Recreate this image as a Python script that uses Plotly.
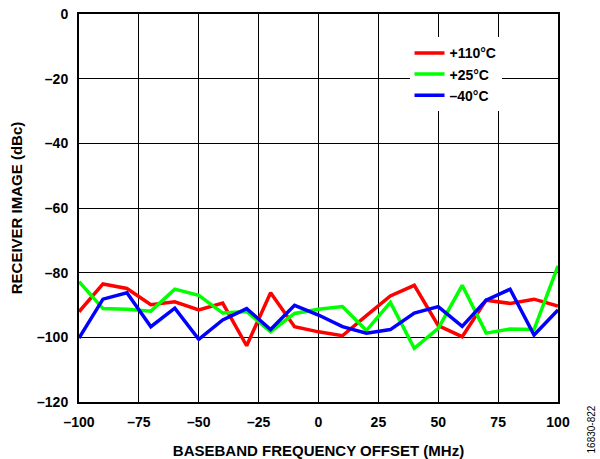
import plotly.graph_objects as go

freq = [-100, -90, -80, -70, -60, -50, -40, -30, -20, -10, 0, 10, 20, 30, 40, 50, 60, 70, 80, 90, 100]
red_110 = [-92.1, -83.5, -84.9, -89.9, -89.0, -91.5, -89.4, -102.6, -86.2, -96.7, -98.3,
           -99.5, -93.3, -87.2, -83.9, -96.4, -99.8, -88.5, -89.5, -88.2, -90.3]
green_25 = [-82.8, -91.1, -91.3, -91.9, -85.1, -87.0, -92.5, -92.0, -98.3, -92.6, -91.3,
            -90.5, -97.9, -89.2, -103.4, -97.2, -83.9, -98.7, -97.4, -97.6, -77.9]
blue_m40 = [-100.2, -88.2, -86.2, -96.7, -91.0, -100.6, -94.6, -91.1, -97.6, -90.1, -93.1,
            -96.7, -98.7, -97.6, -92.5, -90.5, -96.6, -88.5, -85.1, -99.3, -91.5]

xticks = [-100, -75, -50, -25, 0, 25, 50, 75, 100]
xticklabels = ["–100", "–75", "–50", "–25", "0", "25", "50", "75", "100"]
yticks = [0, -20, -40, -60, -80, -100, -120]
yticklabels = ["0", "–20", "–40", "–60", "–80", "–100", "–120"]

FONT = "Liberation Sans, Arial, sans-serif"

fig = go.Figure()
for name, ys, col in [("+110°C", red_110, "#ff0000"),
                      ("+25°C", green_25, "#00ff00"),
                      ("–40°C", blue_m40, "#0000ff")]:
    fig.add_trace(go.Scatter(x=freq, y=ys, mode="lines", name=name,
                             line=dict(color=col, width=3.5)))

axis_common = dict(showgrid=True, gridcolor="#000000", gridwidth=1.3,
                   showline=True, linecolor="#000000", linewidth=2, mirror=True,
                   zeroline=False, ticks="", automargin=False,
                   tickfont=dict(family=FONT, size=14, color="#000000", weight="bold"))

fig.update_xaxes(range=[-100, 100], tickvals=xticks, ticktext=xticklabels,
                 ticklabelstandoff=6,
                 title=dict(text="BASEBAND FREQUENCY OFFSET (MHz)", standoff=22,
                            font=dict(family=FONT, size=15, color="#000000", weight="bold")),
                 **axis_common)
fig.update_yaxes(range=[-120, 0], tickvals=yticks, ticktext=yticklabels,
                 ticklabelstandoff=6,
                 title=dict(text="RECEIVER IMAGE (dBc)", standoff=11,
                            font=dict(family=FONT, size=15, color="#000000", weight="bold")),
                 **axis_common)

fig.update_layout(
    width=600, height=459,
    margin=dict(l=79, r=42, t=14, b=57),
    plot_bgcolor="#ffffff", paper_bgcolor="#ffffff",
    font=dict(family=FONT, size=14, color="#000000"),
    legend=dict(x=0.69, y=0.94, xanchor="left", yanchor="top",
                bgcolor="#ffffff", borderwidth=0,
                font=dict(family=FONT, size=14, color="#000000", weight="bold"),
                tracegroupgap=0, itemwidth=30),
    showlegend=True,
)

fig.add_annotation(text="16830-822", xref="paper", yref="paper",
                   x=1.07, y=-0.072, xanchor="center", yanchor="middle",
                   textangle=-90, showarrow=False,
                   font=dict(family=FONT, size=10, color="#000000"))

fig.write_html("out.html", config={"displayModeBar": False},
               post_script="document.body.style.margin='0';document.body.style.padding='0';")
